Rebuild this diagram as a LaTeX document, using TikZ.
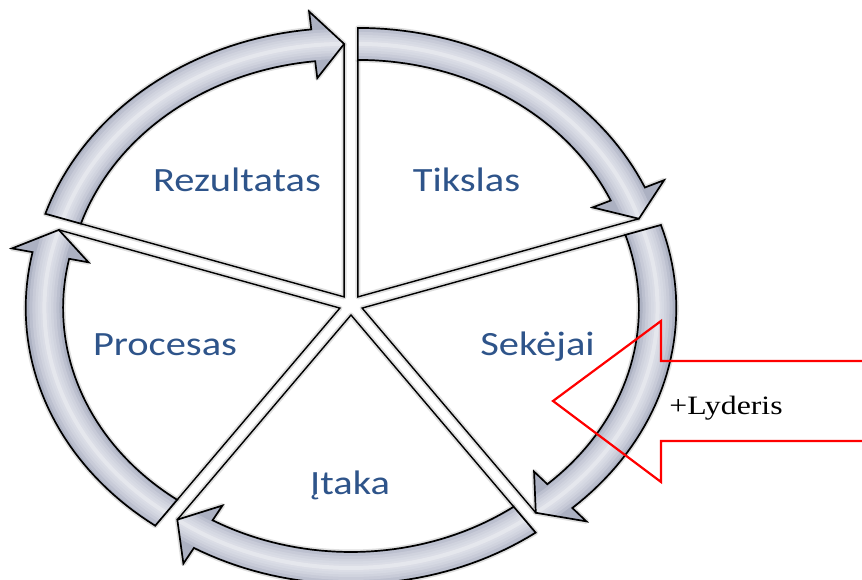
\documentclass[tikz,border=0pt]{standalone}
\usepackage{fontspec}
\usepackage{graphicx}
\newfontfamily\labelfont{Carlito}
\newfontfamily\lyfont{Liberation Serif}
\definecolor{labelblue}{RGB}{46,84,138}
\definecolor{arrowfill}{RGB}{172,177,194}
\definecolor{arrowlight}{RGB}{232,234,241}
\definecolor{leadred}{RGB}{255,0,0}
\tikzset{
  segline/.style={draw=black, line width=1.4pt, line join=miter},
  segshadow/.style={draw=black!50, line width=5pt, opacity=0.25, line join=round},
  arrowbody/.style={draw=black, line width=1.7pt, line join=miter},
  glow/.style={draw=arrowlight, opacity=0.28},
  seglabel/.style={anchor=base, text=labelblue, font=\labelfont\fontsize{34}{40}\selectfont, inner sep=0pt},
  redarrow/.style={draw=leadred, line width=2.2pt, line join=miter},
  leadlabel/.style={anchor=base, font=\lyfont\fontsize{26.5}{30}\selectfont, inner sep=0pt},
}
\newcommand{\arrowoutline}{({\apx+\Ro*cos(\st)},{\apy+\Ro*sin(\st)})
  -- plot[domain=\st:\angH,samples=40] ({\apx+\Ro*cos(\x)},{\apy+\Ro*sin(\x)})
  -- ({\apx+\Rw*cos(\angH)},{\apy+\Rw*sin(\angH)})
  -- ({\apx+\Rm*cos(\angE)},{\apy+\Rm*sin(\angE)})
  -- ({\apx+\Rv*cos(\angH)},{\apy+\Rv*sin(\angH)})
  -- plot[domain=\angH:\st,samples=40] ({\apx+\Ri*cos(\x)},{\apy+\Ri*sin(\x)})
  -- cycle}
\newcommand{\midarc}{plot[domain=\st:\angE,samples=40] ({\apx+\Rm*cos(\x)},{\apy+\Rm*sin(\x)})}
\newcommand{\pieoutline}{({\apx+\Ri*cos(\st)},{\apy+\Ri*sin(\st)}) -- (\apx,\apy) -- ({\apx+\Rm*cos(\angE)},{\apy+\Rm*sin(\angE)})}
\begin{document}
\begin{tikzpicture}[x=1pt,y=1pt]
\useasboundingbox (0,0) rectangle (862,579);
\fill[white] (0,0) rectangle (862,579);
\def\Ro{269}\def\Ri{237}\def\Rm{253}\def\Rw{287}\def\Rv{220}
\begin{scope}[shift={(351,274)}, xscale=1.168]
  % shadows
  \foreach \st in {162,90,18,-54,-126}{
    \pgfmathsetmacro{\angE}{\st-72}
    \pgfmathsetmacro{\angB}{\st-36}
    \pgfmathsetmacro{\angH}{\st-66}
    \pgfmathsetmacro{\apx}{10*cos(\angB)}
    \pgfmathsetmacro{\apy}{10*sin(\angB)}
    \draw[segshadow] \arrowoutline;
    \draw[segshadow] \pieoutline;
  }
  % segments
  \foreach \st in {162,90,18,-54,-126}{
    \pgfmathsetmacro{\angE}{\st-72}
    \pgfmathsetmacro{\angB}{\st-36}
    \pgfmathsetmacro{\angH}{\st-66}
    \pgfmathsetmacro{\apx}{10*cos(\angB)}
    \pgfmathsetmacro{\apy}{10*sin(\angB)}
    \fill[arrowfill] \arrowoutline;
    \begin{scope}
      \clip \arrowoutline;
      \draw[glow, line width=30pt] \midarc;
      \draw[glow, line width=24pt] \midarc;
      \draw[glow, line width=18pt] \midarc;
      \draw[glow, line width=13pt] \midarc;
      \draw[glow, line width=8pt] \midarc;
      \draw[white, opacity=0.3, line width=4pt] \midarc;
    \end{scope}
    \draw[arrowbody] \arrowoutline;
    \draw[segline] \pieoutline;
  }
\end{scope}
% leader arrow
\draw[redarrow] (863,218) -- (661,218) -- (661,258) -- (553,178) -- (661,97) -- (661,138) -- (863,138);
% labels
\node[seglabel] (rez) at (237,387) {\scalebox{1.19}[1]{Rezultatas}};
\node[seglabel] (tik) at (466.5,387) {\scalebox{1.19}[1]{Tikslas}};
\node[seglabel] (proc) at (165,223) {\scalebox{1.19}[1]{Procesas}};
\node[seglabel] (sek) at (537.5,223) {\scalebox{1.19}[1]{Sekėjai}};
\node[seglabel] (itaka) at (350,85) {\scalebox{1.19}[1]{Įtaka}};
\node[leadlabel] (lyd) at (726,165) {\scalebox{1.2}[1]{+Lyderis}};
\end{tikzpicture}
\end{document}
